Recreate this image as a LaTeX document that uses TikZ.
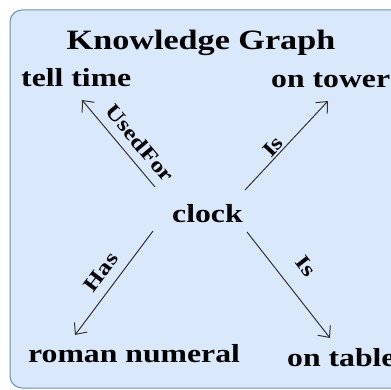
\documentclass[tikz,border=0pt]{standalone}
\usepackage{fontspec}
\newfontfamily\kgfont[FakeStretch=1.22]{Liberation Serif Bold}
\usetikzlibrary{arrows.meta,calc}
\definecolor{boxfill}{HTML}{DAE8FC}
\definecolor{boxline}{HTML}{6C8EBF}
\definecolor{arrowcol}{HTML}{333333}
\begin{document}
\begin{tikzpicture}[x=1pt,y=-1pt,
  kg/.style={inner sep=0pt, font=\kgfont\fontsize{26}{30}\selectfont},
  kgtitle/.style={inner sep=0pt, font=\kgfont\fontsize{28}{32}\selectfont},
  lbl/.style={inner sep=0pt, font=\kgfont\fontsize{21}{24}\selectfont},
  arr/.style={draw=arrowcol, line width=1pt, -{Straight Barb[length=9pt,width=16pt,line width=1pt]}}]
\useasboundingbox (0,0) rectangle (391,390);
\clip (0,0) rectangle (391,390);
\draw[draw=boxline, fill=boxfill, line width=1pt, rounded corners=12pt] (10,10) rectangle (404,388);
\node[kgtitle, anchor=base] (title) at (201,50) {Knowledge Graph};
\node[kg, anchor=base west] (tell) at (21,87) {tell time};
\node[kg, anchor=base west] (tower) at (271,88) {on tower};
\node[kg, anchor=base west] (clock) at (172,223) {clock};
\node[kg, anchor=base west] (roman) at (28,362) {roman numeral};
\node[kg, anchor=base west] (table) at (287,366) {on table};
\draw[arr] ($(clock.base west)+(-17,-36)$) -- ($(tell.base west)+(61,13)$);
\draw[arr] ($(clock.base west)+(73,-33)$) -- ($(tower.base west)+(57,13)$);
\draw[arr] ($(clock.base west)+(-19,8)$) -- ($(roman.base west)+(47,-27)$);
\draw[arr] ($(clock.base west)+(75,9)$) -- ($(table.base west)+(43,-28)$);
\node[lbl, rotate=-50] (usedfor) at (140,143) {UsedFor};
\node[lbl, rotate=47] (is1) at (273,147) {Is};
\node[lbl, rotate=53] (has) at (101,272) {Has};
\node[lbl, rotate=-52] (is2) at (306,266) {Is};
\end{tikzpicture}
\end{document}
